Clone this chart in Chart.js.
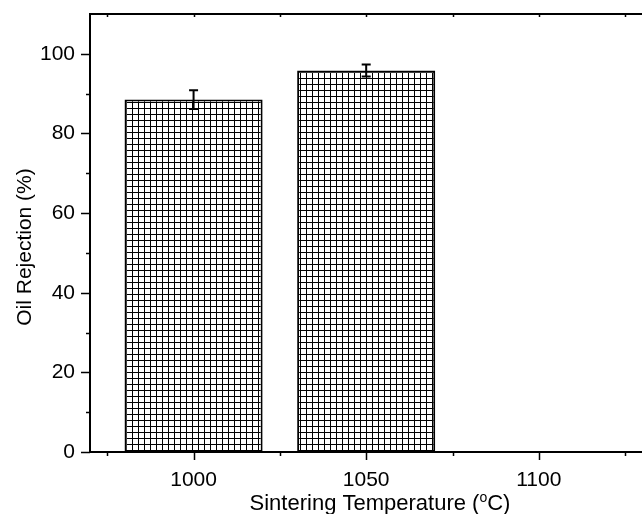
<!DOCTYPE html>
<html>
<head>
<meta charset="utf-8">
<script src="https://cdn.jsdelivr.net/npm/chart.js@4.4.0/dist/chart.umd.min.js"></script>
<style>
  html, body { margin: 0; padding: 0; background: #fff; overflow: hidden; }
  #wrap { width: 642px; height: 514px; overflow: hidden; }
</style>
</head>
<body>
<div id="wrap"><canvas id="c" width="700" height="514"></canvas></div>
<script>
// ---- data ----
const temperatures = [1000, 1050, 1100];
const rejection = [88.5, 95.8, null];
const rejectionErr = [2.35, 1.5, null];
const xTickValues = [1000, 1050, 1100];
const xMinorValues = [975, 1025, 1075, 1125];
const yTickValues = [0, 20, 40, 60, 80, 100];
const yMinorValues = [10, 30, 50, 70, 90];
const xTitle = ['Sintering Temperature (', 'o', 'C)'];
const yTitle = 'Oil Rejection (%)';

const FONT = '"Liberation Sans", Arial, Helvetica, sans-serif';

// grid hatch pattern
function makeHatch() {
  const p = document.createElement('canvas');
  p.width = 6; p.height = 6;
  const g = p.getContext('2d');
  g.fillStyle = '#fff';
  g.fillRect(0, 0, 6, 6);
  g.fillStyle = '#000';
  g.fillRect(0, 0, 6, 1);
  g.fillRect(0, 0, 1, 6);
  return g.createPattern(p, 'repeat');
}
const ctx0 = document.getElementById('c').getContext('2d');
const hatch = makeHatch();

const points = temperatures.map((t, i) => ({ x: t, y: rejection[i] }));

const decorPlugin = {
  id: 'decor',
  afterDatasetsDraw(chart) {
    const ctx = chart.ctx;
    const xs = chart.scales.x, ys = chart.scales.y;
    ctx.save();
    ctx.strokeStyle = '#000';
    ctx.lineWidth = 2;
    temperatures.forEach((t, i) => {
      if (rejection[i] == null || rejectionErr[i] == null) return;
      const px = xs.getPixelForValue(t);
      const yTop = ys.getPixelForValue(rejection[i] + rejectionErr[i]);
      const yBot = ys.getPixelForValue(rejection[i] - rejectionErr[i]);
      ctx.beginPath();
      ctx.moveTo(px, yTop); ctx.lineTo(px, yBot);
      ctx.moveTo(px - 4.5, yTop); ctx.lineTo(px + 4.5, yTop);
      ctx.moveTo(px - 4.5, yBot); ctx.lineTo(px + 4.5, yBot);
      ctx.stroke();
    });
    ctx.restore();
  },
  afterDraw(chart) {
    const ctx = chart.ctx;
    const xs = chart.scales.x, ys = chart.scales.y;
    const area = chart.chartArea;
    ctx.save();
    ctx.strokeStyle = '#000';
    ctx.lineWidth = 2;
    ctx.beginPath();
    ctx.moveTo(area.left - 1, area.top);
    ctx.lineTo(area.right + 1, area.top);
    ctx.stroke();
    ctx.lineWidth = 1.5;
    ctx.beginPath();
    xTickValues.forEach(v => {
      const px = Math.round(xs.getPixelForValue(v)) + 0.5;
      ctx.moveTo(px, area.bottom); ctx.lineTo(px, area.bottom + 8);
      ctx.moveTo(px, area.top); ctx.lineTo(px, area.top + 3);
    });
    xMinorValues.forEach(v => {
      const px = Math.round(xs.getPixelForValue(v)) + 0.5;
      ctx.moveTo(px, area.bottom); ctx.lineTo(px, area.bottom + 4);
      ctx.moveTo(px, area.top); ctx.lineTo(px, area.top + 3);
    });
    yTickValues.forEach(v => {
      const py = Math.round(ys.getPixelForValue(v)) + 0.5;
      ctx.moveTo(area.left, py); ctx.lineTo(area.left - 9, py);
    });
    yMinorValues.forEach(v => {
      const py = Math.round(ys.getPixelForValue(v)) + 0.5;
      ctx.moveTo(area.left, py); ctx.lineTo(area.left - 4, py);
    });
    ctx.stroke();

    // x title with superscript o
    ctx.fillStyle = '#000';
    ctx.textBaseline = 'alphabetic';
    ctx.textAlign = 'left';
    const big = '22px ' + FONT, small = '14px ' + FONT;
    ctx.font = big;
    const w1 = ctx.measureText(xTitle[0]).width;
    const w3 = ctx.measureText(xTitle[2]).width;
    ctx.font = small;
    const w2 = ctx.measureText(xTitle[1]).width;
    const total = w1 + w2 + w3;
    const cx = (area.left + area.right) / 2;
    const baseY = area.bottom + 58;
    let x0 = cx - total / 2;
    ctx.font = big;
    ctx.fillText(xTitle[0], x0, baseY);
    ctx.font = small;
    ctx.fillText(xTitle[1], x0 + w1, baseY - 8);
    ctx.font = big;
    ctx.fillText(xTitle[2], x0 + w1 + w2, baseY);

    // y title
    ctx.save();
    ctx.translate(area.left - 65, (area.top + area.bottom) / 2 + 14);
    ctx.rotate(-Math.PI / 2);
    ctx.font = '21px ' + FONT;
    ctx.textAlign = 'center';
    ctx.textBaseline = 'middle';
    ctx.fillText(yTitle, 0, 0);
    ctx.restore();
    ctx.restore();
  }
};

new Chart(ctx0, {
  type: 'bar',
  data: {
    datasets: [{
      data: points,
      backgroundColor: hatch,
      borderColor: '#000',
      borderWidth: 2,
      borderSkipped: false,
      barPercentage: 0.8,
      categoryPercentage: 1.0
    }]
  },
  options: {
    responsive: false,
    devicePixelRatio: 1,
    animation: false,
    layout: { padding: { top: 14, right: 30, left: 0, bottom: 0 } },
    plugins: { legend: { display: false }, tooltip: { enabled: false } },
    scales: {
      x: {
        type: 'linear',
        offset: false,
        min: 970,
        max: 1138,
        afterBuildTicks(s) { s.ticks = xTickValues.map(v => ({ value: v })); },
        afterFit(s) { s.height = 62; s.paddingLeft = 0; s.paddingRight = 0; },
        grid: { display: false, drawOnChartArea: false, drawTicks: false, offset: false },
        border: { display: true, color: '#000', width: 2 },
        ticks: {
          color: '#000',
          font: { family: FONT, size: 21 },
          padding: 16,
          maxRotation: 0,
          callback: v => String(v)
        }
      },
      y: {
        min: 0,
        max: 110,
        afterBuildTicks(s) { s.ticks = yTickValues.map(v => ({ value: v })); },
        afterFit(s) { s.width = 90; s.paddingTop = 0; s.paddingBottom = 0; },
        grid: { display: false, drawOnChartArea: false, drawTicks: false },
        border: { display: true, color: '#000', width: 2 },
        ticks: {
          color: '#000',
          font: { family: FONT, size: 21 },
          padding: 15,
          callback: v => String(v)
        }
      }
    }
  },
  plugins: [decorPlugin]
});
</script>
</body>
</html>
